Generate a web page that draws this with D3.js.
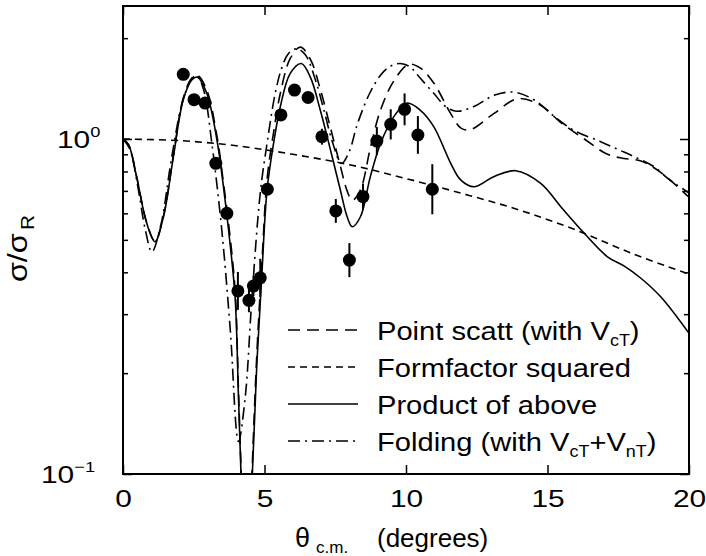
<!DOCTYPE html>
<html><head><meta charset="utf-8">
<script src="https://cdn.jsdelivr.net/npm/d3@7/dist/d3.min.js"></script>
<style>
body{margin:0;background:#fff}
svg{display:block}
text{font-family:"Liberation Sans",Arial,Helvetica,sans-serif;fill:#000}
</style>
</head><body>
<svg id="c" width="706" height="556"></svg>
<script>
// ---------- tick values ----------
const xTicks = [0, 5, 10, 15, 20];
const yMajor = [0.1, 1];
const yMinor = [0.2, 0.3, 0.4, 0.5, 0.6, 0.7, 0.8, 0.9, 2];
const yMajorLabels = [["10", "\u22121"], ["10", "0"]];

// ---------- measured data ----------
const dataTheta = [2.13, 2.51, 2.90, 3.28, 3.67, 4.06, 4.45, 4.61, 4.85, 5.10, 5.58, 6.06, 6.54, 7.03, 7.52, 8.00, 8.48, 8.97, 9.46, 9.95, 10.42, 10.93];
const dataVal   = [1.56, 1.31, 1.28, 0.846, 0.60, 0.352, 0.33, 0.364, 0.385, 0.708, 1.18, 1.40, 1.33, 1.016, 0.61, 0.435, 0.673, 0.986, 1.106, 1.226, 1.028, 0.708];
const dataLo    = [1.51, 1.28, 1.24, 0.82, 0.58, 0.309, 0.304, 0.340, 0.338, 0.69, 1.15, 1.36, 1.29, 0.962, 0.562, 0.387, 0.616, 0.896, 0.997, 1.099, 0.903, 0.596];
const dataHi    = [1.61, 1.35, 1.32, 0.87, 0.62, 0.401, 0.358, 0.390, 0.439, 0.73, 1.21, 1.44, 1.37, 1.073, 0.662, 0.489, 0.736, 1.086, 1.227, 1.368, 1.171, 0.841];

// ---------- curves ----------
// Point scattering (with V_cT)  - long dashes
const pointTheta = [0, 0.2, 0.48, 0.84, 1.13, 1.43, 1.78, 2.13, 2.43, 2.63, 2.96, 3.32, 3.55, 3.73, 3.96, 4.08, 4.17, 4.37, 4.57, 4.73, 4.91, 5.09, 5.32, 5.56, 5.91, 6.27, 6.62, 6.97, 7.33, 7.68, 7.92, 8.1, 8.39, 8.74, 9.1, 9.57, 10.1, 10.5, 10.98, 11.58, 11.93, 12.25, 13.1, 13.95, 14.76, 15.47, 16.3, 17.12, 17.7, 18.3, 19.0, 20.0];
const pointVal   = [1.0, 0.96, 0.773, 0.562, 0.496, 0.589, 0.893, 1.325, 1.52, 1.55, 1.40, 1.02, 0.74, 0.56, 0.354, 0.178, 0.105, 0.037, 0.107, 0.229, 0.43, 0.756, 1.045, 1.37, 1.74, 1.88, 1.73, 1.41, 1.08, 0.83, 0.70, 0.656, 0.705, 0.94, 1.22, 1.49, 1.67, 1.63, 1.47, 1.19, 1.08, 1.065, 1.19, 1.32, 1.26, 1.12, 1.0, 0.90, 0.875, 0.86, 0.795, 0.67];

// Formfactor squared - short dashes
const ffTheta = [0, 2, 4, 6, 8, 10, 12, 14, 16, 18, 20];
const ffVal   = [1.0, 0.989, 0.955, 0.90, 0.838, 0.762, 0.687, 0.614, 0.535, 0.455, 0.395];

// Product of above - solid
const prodTheta = [0, 0.2, 0.48, 0.84, 1.13, 1.43, 1.78, 2.13, 2.43, 2.63, 2.96, 3.32, 3.55, 3.73, 3.96, 4.08, 4.17, 4.37, 4.57, 4.73, 4.91, 5.09, 5.32, 5.56, 5.91, 6.3, 6.62, 6.97, 7.33, 7.68, 7.92, 8.1, 8.39, 8.74, 9.1, 9.57, 10.04, 10.5, 10.98, 11.58, 11.93, 12.4, 13.1, 13.88, 14.76, 15.47, 16.3, 17.12, 17.7, 18.3, 19.0, 20.0];
const prodVal   = [1.0, 0.96, 0.772, 0.56, 0.494, 0.586, 0.885, 1.31, 1.50, 1.53, 1.37, 0.993, 0.72, 0.535, 0.338, 0.170, 0.10, 0.035, 0.10, 0.214, 0.40, 0.704, 0.97, 1.25, 1.57, 1.68, 1.53, 1.22, 0.928, 0.704, 0.586, 0.547, 0.586, 0.772, 0.97, 1.166, 1.28, 1.22, 1.089, 0.846, 0.755, 0.72, 0.772, 0.804, 0.737, 0.628, 0.523, 0.445, 0.418, 0.384, 0.338, 0.263];

// Folding (with V_cT + V_nT) - dash-dot
const foldTheta = [0, 0.25, 0.5, 0.8, 1.02, 1.35, 1.7, 2.1, 2.4, 2.6, 2.85, 3.14, 3.49, 3.79, 4.08, 4.32, 4.55, 4.85, 5.09, 5.38, 5.6, 5.85, 6.15, 6.45, 6.8, 7.1, 7.4, 7.72, 8.0, 8.27, 8.7, 9.1, 9.45, 9.8, 10.15, 10.5, 10.98, 11.4, 11.81, 12.4, 13.11, 13.82, 14.52, 15.23, 15.94, 16.88, 17.5, 18.07, 18.77, 19.25, 20.0];
const foldVal   = [1.0, 0.93, 0.74, 0.53, 0.46, 0.56, 0.86, 1.29, 1.50, 1.55, 1.40, 0.97, 0.535, 0.27, 0.125, 0.17, 0.33, 0.69, 0.97, 1.37, 1.62, 1.80, 1.86, 1.78, 1.50, 1.22, 0.98, 0.845, 0.92, 1.10, 1.36, 1.55, 1.65, 1.68, 1.64, 1.52, 1.37, 1.25, 1.21, 1.25, 1.35, 1.38, 1.31, 1.17, 1.06, 0.982, 0.93, 0.885, 0.826, 0.763, 0.69];

const legendLabels = [
  [["Point scatt (with V", 0], ["cT", 1], [")", 0]],
  [["Formfactor squared", 0]],
  [["Product of above", 0]],
  [["Folding (with V", 0], ["cT", 1], ["+V", 0], ["nT", 1], [")", 0]]
];
const legendDash = ["12,7", "7,5", null, "12,5,2,5"];

// ---------- layout ----------
const m = {l: 123, r: 689, t: 6, b: 474};
const SX = 1.22;            // horizontal stretch of the tick lettering
const SXL = 1.12;           // horizontal stretch of the legend lettering
const svg = d3.select("#c");
const x = d3.scaleLinear().domain([0, 20]).range([m.l, m.r]);
const y = d3.scaleLog().domain([0.1, Math.pow(10, 133 / 335)]).range([m.b, m.t]);

svg.append("defs").append("clipPath").attr("id", "clip")
  .append("rect").attr("x", m.l).attr("y", m.t).attr("width", m.r - m.l).attr("height", m.b - m.t);

// axes ticks
function styleAxis(g) { g.select(".domain").remove(); g.selectAll("line").attr("stroke", "#000").attr("stroke-width", 1.5); }
const gx = svg.append("g").attr("transform", `translate(0,${m.b})`)
  .call(d3.axisBottom(x).tickValues(xTicks).tickSize(-9).tickPadding(16).tickFormat(d3.format("d")));
styleAxis(gx);
gx.selectAll("text").attr("font-size", 24.5).attr("fill", "#000").attr("transform", `scale(${SX},1)`);
svg.append("g").attr("transform", `translate(0,${m.t})`)
  .call(d3.axisTop(x).tickValues(xTicks).tickSize(-9).tickFormat("")).call(styleAxis);
svg.append("g").attr("transform", `translate(${m.l},0)`)
  .call(d3.axisLeft(y).tickValues(yMajor).tickSize(-9).tickFormat("")).call(styleAxis);
svg.append("g").attr("transform", `translate(${m.l},0)`)
  .call(d3.axisLeft(y).tickValues(yMinor).tickSize(-5).tickFormat("")).call(styleAxis);
svg.append("g").attr("transform", `translate(${m.r},0)`)
  .call(d3.axisRight(y).tickValues(yMajor).tickSize(-9).tickFormat("")).call(styleAxis);
svg.append("g").attr("transform", `translate(${m.r},0)`)
  .call(d3.axisRight(y).tickValues(yMinor).tickSize(-5).tickFormat("")).call(styleAxis);

// y tick labels
const yLabStart = [41, 57];
yMajor.forEach((v, i) => {
  const t = svg.append("text").attr("font-size", 24.5)
    .attr("transform", `translate(${yLabStart[i]},${y(v) + 9}) scale(${SX},1)`);
  t.append("tspan").text(yMajorLabels[i][0]);
  t.append("tspan").attr("font-size", 15).attr("dy", -11).text(yMajorLabels[i][1]);
});

// curves
const line = d3.line().x(d => x(d[0])).y(d => y(d[1])).curve(d3.curveCatmullRom.alpha(0.5));
const curves = [
  [pointTheta, pointVal, legendDash[0]],
  [ffTheta, ffVal, legendDash[1]],
  [prodTheta, prodVal, legendDash[2]],
  [foldTheta, foldVal, legendDash[3]]
];
const gc = svg.append("g").attr("clip-path", "url(#clip)");
curves.forEach(([th, v, dash]) => {
  gc.append("path").datum(th.map((t, i) => [t, v[i]]))
    .attr("d", line).attr("fill", "none").attr("stroke", "#000").attr("stroke-width", 1.6)
    .attr("stroke-dasharray", dash);
});

// data points
const gd = svg.append("g");
dataTheta.forEach((t, i) => {
  gd.append("line").attr("x1", x(t)).attr("x2", x(t)).attr("y1", y(dataLo[i])).attr("y2", y(dataHi[i]))
    .attr("stroke", "#000").attr("stroke-width", 2);
  gd.append("circle").attr("cx", x(t)).attr("cy", y(dataVal[i])).attr("r", 6.5).attr("fill", "#000");
});

// frame
svg.append("rect").attr("x", m.l).attr("y", m.t).attr("width", m.r - m.l).attr("height", m.b - m.t)
  .attr("fill", "none").attr("stroke", "#000").attr("stroke-width", 2);

// legend
const legRows = [330, 367, 404, 441];
legendLabels.forEach((parts, i) => {
  const yy = legRows[i];
  svg.append("line").attr("x1", 288).attr("x2", 358).attr("y1", yy).attr("y2", yy)
    .attr("stroke", "#000").attr("stroke-width", 1.6).attr("stroke-dasharray", legendDash[i]);
  const t = svg.append("text").attr("font-size", 26)
    .attr("transform", `translate(377,${yy + 9.5}) scale(${SXL},1)`);
  parts.forEach(([s, sub], k) => {
    const prevSub = k > 0 && parts[k - 1][1];
    const ts = t.append("tspan").text(s);
    if (sub) ts.attr("font-size", 16).attr("dy", prevSub ? 0 : 6);
    else if (prevSub) ts.attr("dy", -6);
  });
});

// axis titles
svg.append("text").attr("font-size", 27).attr("x", 295).attr("y", 547).text("\u03B8");
svg.append("text").attr("font-size", 17).attr("x", 316).attr("y", 553).text("c.m.");
svg.append("text").attr("font-size", 26).attr("x", 377).attr("y", 547).text("(degrees)");

const yt = svg.append("text").attr("font-size", 28).attr("transform", `translate(27,282) rotate(-90) scale(1.15,1)`);
yt.append("tspan").text("\u03C3/\u03C3");
yt.append("tspan").attr("font-size", 18).attr("dx", 3).attr("dy", 7).text("R");
</script>
</body></html>
